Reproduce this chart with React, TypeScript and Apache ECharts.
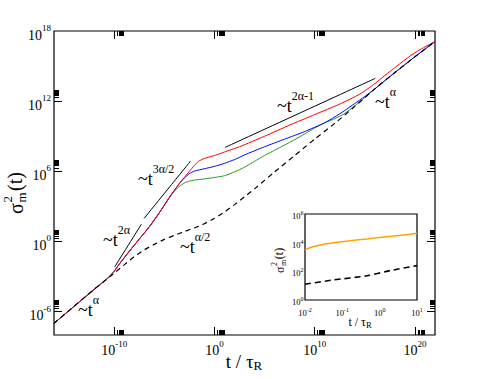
import { useEffect, useRef } from 'react';
import * as echarts from 'echarts';

const SERIF = '"Liberation Serif", "Times New Roman", serif';

// ---------- main panel: log10(t / τR) vs log10(σ²m(t)) ----------
const mainXRange = [-16, 22];
const mainYRange = [-8, 18];
const mainXMajor = [-10, 0, 10, 20];
const mainYMajor = [-6, 0, 6, 12, 18];

const dashedLogT = [-16, -14, -12, -11, -10, -9, -8, -7, -6, -5, -4, -3, -2, -1, 0, 1, 2, 3, 4, 6, 8, 10, 12, 14, 16, 18, 20, 22];
const dashedLogS = [-7.0, -5.55, -4.1, -3.4, -2.72, -2.0, -1.3, -0.72, -0.25, 0.18, 0.52, 0.85, 1.15, 1.52, 1.98, 2.52, 3.15, 3.82, 4.5, 5.95, 7.35, 8.75, 10.1, 11.55, 13.05, 14.45, 15.8, 17.1];

const redLogT = [-16, -14, -12, -11, -10.5, -10, -9.5, -8.5, -7.5, -6.5, -5.5, -4.5, -3.5, -2.5, -2, -1.6, -1, 0, 1, 2.5, 5, 7.5, 10, 12.5, 14.5, 16, 17, 18.2, 19.5, 20.5, 22];
const redLogS = [-7.0, -5.55, -4.1, -3.4, -3.02, -2.55, -1.95, -0.85, 0.2, 1.25, 2.45, 3.75, 4.95, 6.0, 6.5, 6.85, 7.1, 7.35, 7.65, 8.1, 9.0, 9.95, 10.85, 11.75, 12.6, 13.5, 14.2, 15.0, 15.85, 16.4, 17.1];

const blueLogT = [-16, -14, -12, -11, -10.5, -10, -9.5, -8.5, -7.5, -6.5, -5.5, -4.5, -3.5, -3, -2.5, -2, -1, 0, 1, 2, 3, 5, 7, 9, 11, 12, 13, 14, 15, 16, 18, 20, 22];
const blueLogS = [-7.0, -5.55, -4.1, -3.4, -3.02, -2.55, -1.95, -0.85, 0.2, 1.25, 2.45, 3.75, 4.95, 5.42, 5.8, 6.02, 6.22, 6.42, 6.68, 7.0, 7.4, 8.1, 8.75, 9.4, 10.15, 10.65, 11.2, 11.8, 12.4, 13.05, 14.45, 15.8, 17.1];

const greenLogT = [-16, -14, -12, -11, -10.5, -10, -9.5, -8.5, -7.5, -6.5, -5.5, -4.5, -4, -3.5, -3, -2.5, -2, -1, 0, 1, 2, 3, 4, 5, 6, 7, 8, 9, 10, 11, 12, 13, 14, 15, 16, 18, 20, 22];
const greenLogS = [-7.0, -5.55, -4.1, -3.4, -3.02, -2.55, -1.95, -0.85, 0.2, 1.25, 2.45, 3.75, 4.3, 4.7, 5.0, 5.15, 5.25, 5.35, 5.47, 5.62, 5.95, 6.35, 6.85, 7.35, 7.8, 8.25, 8.7, 9.2, 9.7, 10.15, 10.5, 10.95, 11.6, 12.3, 13.05, 14.45, 15.8, 17.1];

// power-law guide segments
const guide2aT = [-9.95, -7.28];
const guide2aS = [-2.18, 1.48];
const guide3a2T = [-7.02, -2.38];
const guide3a2S = [1.97, 6.87];
const guide2a1T = [1.05, 16.05];
const guide2a1S = [8.04, 13.95];

// ---------- inset ----------
const insetXRange = [-2, 1];
const insetYRange = [0, 6];
const insetXMajor = [-2, -1, 0, 1];
const insetYMajor = [0, 2, 4, 6];
const insetOrangeT = [-2, -1.85, -1.68, -1.24, -0.79, -0.34, 0.1, 0.55, 1];
const insetOrangeS = [3.5, 3.66, 3.79, 4.0, 4.14, 4.26, 4.4, 4.51, 4.65];
const insetDashedT = [-2, -1.24, -0.34, 0.28, 1];
const insetDashedS = [1.1, 1.4, 1.69, 2.05, 2.4];

const pairs = (xs: number[], ys: number[]) => xs.map((x, i) => [x, ys[i]]);
const KS = [2, 3, 4, 5, 6, 7, 8, 9];
const minorsAfter = (majors: number[], lo: number, hi: number) =>
  majors.flatMap((m) => KS.map((k) => m + Math.log10(k))).filter((v) => v > lo && v < hi);

function makeAxes(
  dim: 'x' | 'y',
  gridIndex: number,
  range: number[],
  majors: number[],
  minors: number[],
  labelValues: number[],
  majorLen: number,
  minorLen: number,
  label: any,
) {
  const positions = dim === 'x' ? ['bottom', 'top'] : ['left', 'right'];
  const out: any[] = [];
  positions.forEach((pos, pi) => {
    [0, 1].forEach((isMinor) => {
      const showLabel = pi === 0 && !isMinor;
      out.push({
        type: 'value',
        gridIndex,
        position: pos,
        min: range[0],
        max: range[1],
        axisLine: { show: false, onZero: false },
        splitLine: { show: false },
        axisTick: {
          show: true,
          inside: true,
          length: isMinor ? minorLen : majorLen,
          customValues: isMinor ? minors : majors.filter((v) => v > range[0] && v < range[1]),
          lineStyle: { color: '#000', width: 1 },
        },
        axisLabel: showLabel
          ? { show: true, customValues: labelValues, showMinLabel: true, showMaxLabel: true, ...label }
          : { show: false },
      });
    });
  });
  return out;
}

const supFormatter = (v: number) => `{b|10}{s|${Math.round(v)}}`;

export default function App() {
  const ref = useRef<HTMLDivElement>(null);
  useEffect(() => {
    if (!ref.current) return;
    const chart = echarts.init(ref.current, null, { renderer: 'svg' });

    const mainRich = {
      b: { fontSize: 14, fontFamily: SERIF, color: '#000', lineHeight: 23, verticalAlign: 'middle' },
      s: { fontSize: 9, fontFamily: SERIF, color: '#000', lineHeight: 9, verticalAlign: 'top' },
    };
    const insetRich = {
      b: { fontSize: 8.5, fontFamily: SERIF, color: '#000', lineHeight: 12, verticalAlign: 'middle' },
      s: { fontSize: 6, fontFamily: SERIF, color: '#000', lineHeight: 6, verticalAlign: 'top' },
    };

    const xAxes = [
      ...makeAxes('x', 0, mainXRange, mainXMajor, minorsAfter(mainXMajor, mainXRange[0], mainXRange[1]), mainXMajor, 8, 5,
        { formatter: supFormatter, rich: mainRich, margin: 4 }),
      ...makeAxes('x', 1, insetXRange, insetXMajor, minorsAfter([-2, -1, 0], insetXRange[0], insetXRange[1]), insetXMajor, 3.5, 2,
        { formatter: supFormatter, rich: insetRich, margin: 7 }),
    ];
    const yAxes = [
      ...makeAxes('y', 0, mainYRange, mainYMajor, minorsAfter(mainYMajor, mainYRange[0], mainYRange[1]), mainYMajor, 8, 5,
        { formatter: supFormatter, rich: mainRich, margin: 3, padding: [8, 0, 0, 0] }),
      ...makeAxes('y', 1, insetYRange, insetYMajor, minorsAfter([0, 2, 4], insetYRange[0], insetYRange[1]), insetYMajor, 3.5, 2,
        { formatter: supFormatter, rich: insetRich, margin: 1.5, padding: [4, 0, 0, 0] }),
    ];

    const line = (name: string, data: number[][], color: string, width: number, type: any, xi: number, yi: number, z: number) => ({
      name,
      type: 'line',
      data,
      xAxisIndex: xi,
      yAxisIndex: yi,
      showSymbol: false,
      symbol: 'none',
      smooth: 0.2,
      clip: true,
      z,
      lineStyle: { color, width, type },
      emphasis: { disabled: true },
    });

    const insetXIndex = 4;
    const insetYIndex = 4;

    const annRich = {
      a: { fontSize: 18, fontFamily: SERIF, color: '#000', lineHeight: 32, verticalAlign: 'middle' },
      s: { fontSize: 12, fontFamily: SERIF, color: '#000', lineHeight: 12, verticalAlign: 'top' },
    };
    const ann = (x: number, y: number, sup: string) => ({
      type: 'text',
      x,
      y,
      z: 100,
      style: { text: `{a|~t}{s|${sup}}`, rich: annRich, align: 'left', verticalAlign: 'top', textAlign: 'left', textVerticalAlign: 'top' },
    });

    const titleText = (x: number, y: number, size: number, subSize: number) => ({
      type: 'text',
      x,
      y,
      z: 100,
      style: {
        text: '{a|t / τ}{r|R}',
        align: 'center',
        verticalAlign: 'top',
        textAlign: 'center',
        textVerticalAlign: 'top',
        rich: {
          a: { fontSize: size, fontFamily: SERIF, color: '#000', lineHeight: size + 1, verticalAlign: 'top' },
          r: { fontSize: subSize, fontFamily: SERIF, color: '#000', lineHeight: size * 0.3, verticalAlign: 'bottom' },
        },
      },
    });

    const sigmaTitle = (x: number, y: number, size: number, small: number) => ({
      type: 'group',
      x,
      y,
      rotation: Math.PI / 2,
      z: 100,
      children: [
        { type: 'text', x: 0, y: 0, style: { text: 'σ', fontSize: size, fontFamily: SERIF, fill: '#000', align: 'left', verticalAlign: 'middle' } },
        { type: 'text', x: size * 0.58, y: -size * 0.42, style: { text: '2', fontSize: small, fontFamily: SERIF, fill: '#000', align: 'left', verticalAlign: 'middle' } },
        { type: 'text', x: size * 0.58, y: size * 0.28, style: { text: 'm', fontSize: small, fontFamily: SERIF, fill: '#000', align: 'left', verticalAlign: 'middle' } },
        { type: 'text', x: size * 1.15, y: -size * 0.05, style: { text: '(t)', fontSize: size, fontFamily: SERIF, fill: '#000', align: 'left', verticalAlign: 'middle' } },
      ],
    });

    chart.setOption({
      animation: false,
      backgroundColor: '#ffffff',
      textStyle: { fontFamily: SERIF },
      grid: [
        { left: 54, top: 31, width: 381, height: 304, show: true, borderColor: '#000', borderWidth: 1.2, backgroundColor: 'transparent', containLabel: false, outerBoundsMode: 'none' },
        { left: 305, top: 214, width: 112, height: 86, show: true, borderColor: '#000', borderWidth: 1.2, backgroundColor: '#fff', containLabel: false, outerBoundsMode: 'none', z: 5 },
      ],
      xAxis: xAxes,
      yAxis: yAxes,
      series: [
        line('green', pairs(greenLogT, greenLogS), '#1f9a1f', 1, 'solid', 0, 0, 2),
        line('blue', pairs(blueLogT, blueLogS), '#0000ff', 1, 'solid', 0, 0, 3),
        line('red', pairs(redLogT, redLogS), '#ff0000', 1, 'solid', 0, 0, 4),
        line('dashed', pairs(dashedLogT, dashedLogS), '#000', 1.2, [5, 4], 0, 0, 5),
        line('guide 2α', pairs(guide2aT, guide2aS), '#000', 1, 'solid', 0, 0, 6),
        line('guide 3α/2', pairs(guide3a2T, guide3a2S), '#000', 1, 'solid', 0, 0, 6),
        line('guide 2α-1', pairs(guide2a1T, guide2a1S), '#000', 1, 'solid', 0, 0, 6),
        line('inset orange', pairs(insetOrangeT, insetOrangeS), '#ffa500', 1.5, 'solid', insetXIndex, insetYIndex, 10),
        line('inset dashed', pairs(insetDashedT, insetDashedS), '#000', 1.6, [6, 4], insetXIndex, insetYIndex, 10),
      ],
      graphic: [
        ann(78, 294, 'α'),
        ann(103, 224, '2α'),
        ann(138, 163, '3α/2'),
        ann(180, 231, 'α/2'),
        ann(277, 90, '2α-1'),
        ann(375, 86, 'α'),
        titleText(244, 352, 19, 13),
        titleText(360, 316, 12, 8.5),
        sigmaTitle(16, 214, 20, 13),
        sigmaTitle(280, 273, 12, 8),
      ],
    });
    return () => chart.dispose();
  }, []);
  return <div ref={ref} style={{ position: 'fixed', left: 0, top: 0, width: 491, height: 379, background: '#fff' }} />;
}
